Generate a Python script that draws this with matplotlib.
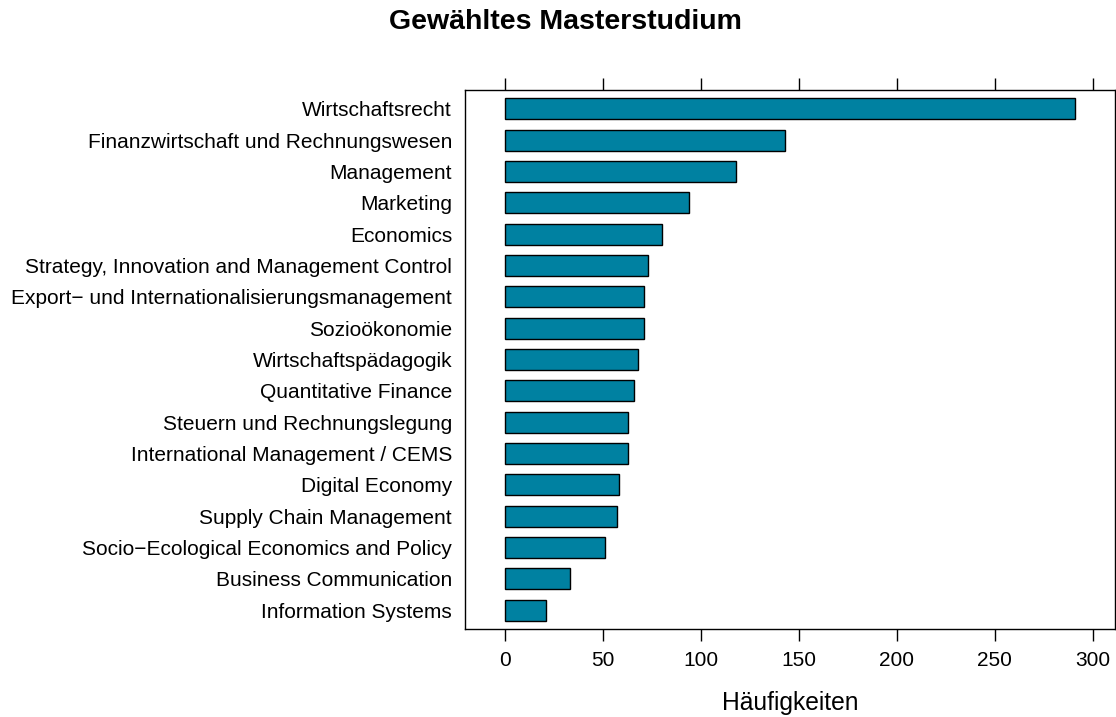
import matplotlib
matplotlib.use("Agg")
import matplotlib.pyplot as plt
import numpy as np

plt.rcParams["font.family"] = ["Liberation Sans", "DejaVu Sans"]

# data, top to bottom as shown in the chart
programmes = [
    "Wirtschaftsrecht",
    "Finanzwirtschaft und Rechnungswesen",
    "Management",
    "Marketing",
    "Economics",
    "Strategy, Innovation and Management Control",
    "Export\u2212 und Internationalisierungsmanagement",
    "Sozioökonomie",
    "Wirtschaftspädagogik",
    "Quantitative Finance",
    "Steuern und Rechnungslegung",
    "International Management / CEMS",
    "Digital Economy",
    "Supply Chain Management",
    "Socio\u2212Ecological Economics and Policy",
    "Business Communication",
    "Information Systems",
]
counts = [291, 143, 118, 94, 80, 73, 71, 71, 68, 66, 63, 63, 58, 57, 51, 33, 21]
xticks = [0, 50, 100, 150, 200, 250, 300]

W, H = 1116, 717
fig = plt.figure(figsize=(W / 100, H / 100), dpi=100)
ax = fig.add_axes([465 / W, 1 - 629 / H, 650 / W, (629 - 90) / H])

n = len(programmes)
ypos = np.arange(n, 0, -1)
ax.barh(ypos, counts, height=0.67, color="#0081A1", edgecolor="black", linewidth=1.0)

# lattice-style padding around the data range
pad = 0.07 * max(counts)
ax.set_xlim(-pad, max(counts) + pad)
ax.set_ylim(0.4, n + 0.6)
ax.set_yticks(ypos)
ax.set_yticklabels(programmes, fontsize=15)
ax.set_xticks(xticks)
ax.set_xticklabels([str(t) for t in xticks], fontsize=15)

ax.tick_params(axis="y", length=0, pad=9.3)
ax.tick_params(axis="x", which="both", top=True, bottom=True, labeltop=False,
               direction="out", length=8.6, width=1.0, pad=7)
for s in ax.spines.values():
    s.set_linewidth(1.0)

fig.text(790 / W, 1 - 703 / H, "Häufigkeiten", fontsize=17.7, ha="center", va="center")
fig.text(565 / W, 1 - 22 / H, "Gewähltes Masterstudium", fontsize=20.5,
         fontweight="bold", ha="center", va="center")

fig.savefig("out.png", dpi=100)
